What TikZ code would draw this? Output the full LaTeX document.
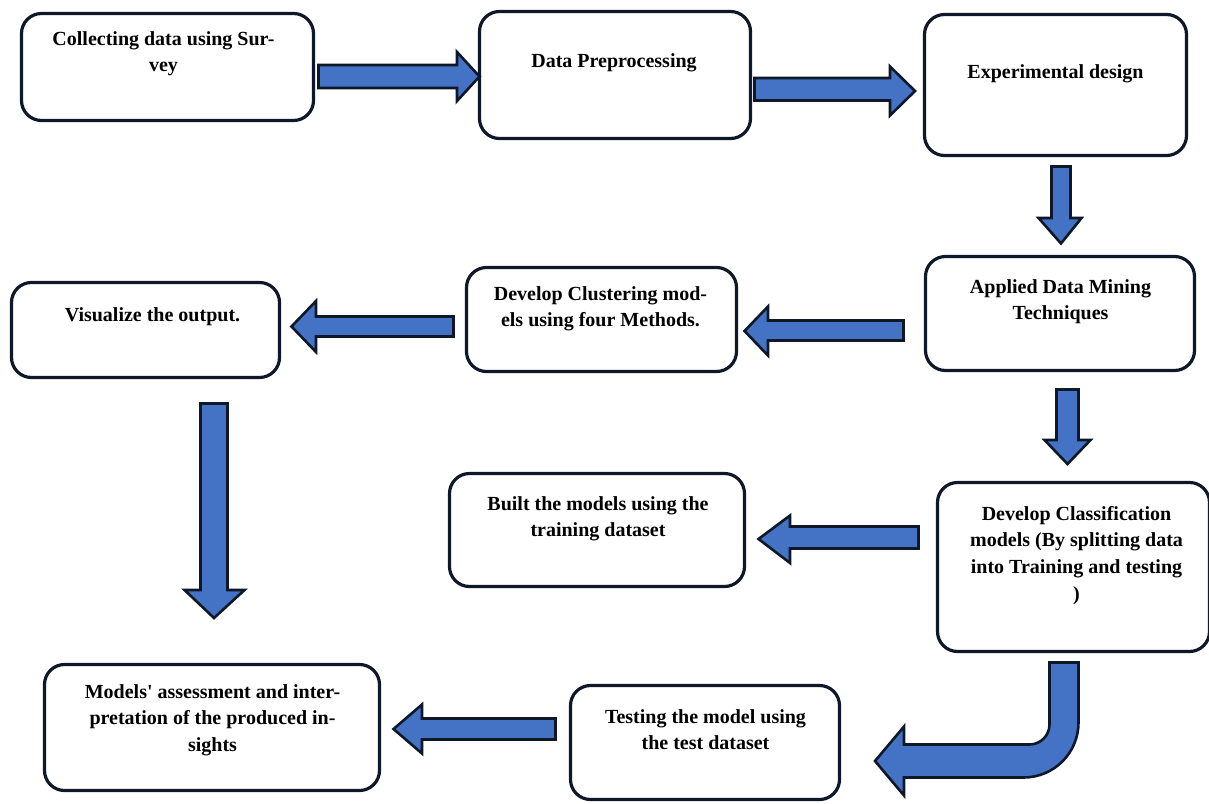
\documentclass[tikz,border=0pt]{standalone}
\usepackage{fontspec}
\setmainfont{Liberation Serif}[Ligatures=TeXOff]
\definecolor{edge}{HTML}{0E1828}
\definecolor{fillblue}{HTML}{4472C4}
\begin{document}
\begin{tikzpicture}[x=1pt,y=-1pt,
  box/.style={draw=edge, line width=3.2pt, rounded corners=20pt, fill=white, inner sep=0pt},
  lbl/.style={anchor=base, inner sep=0pt, font=\fontsize{20}{26.7}\selectfont\bfseries, text=black},
  barrow/.style={draw=edge, line width=2.6pt, fill=fillblue, line join=miter}]
\useasboundingbox (0,0) rectangle (1209,803);
% boxes
\node[box, minimum width=292pt, minimum height=107pt] (b1) at (167.5,67) {};
\node[box, minimum width=271pt, minimum height=127pt] (b2) at (615,75) {};
\node[box, minimum width=262pt, minimum height=141pt] (b3) at (1055.5,85) {};
\node[box, minimum width=269pt, minimum height=114pt] (b4) at (1060,313.5) {};
\node[box, minimum width=270pt, minimum height=104pt] (b5) at (601.5,319.5) {};
\node[box, minimum width=268pt, minimum height=95pt] (b6) at (145.5,330) {};
\node[box, minimum width=295pt, minimum height=113pt] (b7) at (597,530) {};
\node[box, minimum width=272pt, minimum height=169pt] (b8) at (1073.5,567) {};
\node[box, minimum width=335pt, minimum height=126pt] (b9) at (212,727.5) {};
\node[box, minimum width=269pt, minimum height=114pt] (b10) at (705,742.5) {};
% texts
\node[lbl] (t1) at (163.5,45) {\parbox[t]{320pt}{\centering Collecting data using Sur-\\vey}};
\node[lbl] (t2) at (614,67) {\parbox[t]{320pt}{\centering Data Preprocessing}};
\node[lbl] (t3) at (1055.5,78) {\parbox[t]{320pt}{\centering Experimental design}};
\node[lbl] (t4) at (1060.5,293) {\parbox[t]{320pt}{\centering Applied Data Mining\\Techniques}};
\node[lbl] (t5) at (600.5,300) {\parbox[t]{320pt}{\centering Develop Clustering mod-\\els using four Methods.}};
\node[lbl] (t6) at (152.5,321) {\parbox[t]{320pt}{\centering Visualize the output.}};
\node[lbl] (t7) at (598,510) {\parbox[t]{320pt}{\centering Built the models using the\\training dataset}};
\node[lbl] (t8) at (1076.5,520) {\parbox[t]{320pt}{\centering Develop Classification\\models (By splitting data\\into Training and testing\\)}};
\node[lbl] (t9) at (212.5,698) {\parbox[t]{360pt}{\centering Models' assessment and inter-\\pretation of the produced in-\\sights}};
\node[lbl] (t10) at (705.5,723) {\parbox[t]{320pt}{\centering Testing the model using\\the test dataset}};
% block arrows
\draw[barrow] (318.5,65) -- (457,65) -- (457,52) -- (479.5,76.5) -- (457,101) -- (457,88) -- (318.5,88) -- cycle;
\draw[barrow] (754.5,78) -- (890,78) -- (890,66.5) -- (915,91) -- (890,115.5) -- (890,100.5) -- (754.5,100.5) -- cycle;
\draw[barrow] (1051.5,166.5) -- (1070.5,166.5) -- (1070.5,218) -- (1081.5,218) -- (1061,243.5) -- (1038.5,218) -- (1051.5,218) -- cycle;
\draw[barrow] (903.5,320.5) -- (768,320.5) -- (768,306.5) -- (744.5,331) -- (768,355.5) -- (768,340.5) -- (903.5,340.5) -- cycle;
\draw[barrow] (453.5,316.5) -- (316,316.5) -- (316,301) -- (291.5,326.5) -- (316,352) -- (316,336.5) -- (453.5,336.5) -- cycle;
\draw[barrow] (200.5,403.5) -- (227.5,403.5) -- (227.5,590) -- (244.5,590) -- (214,618) -- (184.5,590) -- (200.5,590) -- cycle;
\draw[barrow] (1056.5,389.5) -- (1078.5,389.5) -- (1078.5,440) -- (1090.5,440) -- (1067.5,464) -- (1044.5,440) -- (1056.5,440) -- cycle;
\draw[barrow] (918.5,526.5) -- (790,526.5) -- (790,515.5) -- (758.5,539) -- (790,563) -- (790,548.5) -- (918.5,548.5) -- cycle;
\draw[barrow] (555.5,718.5) -- (422,718.5) -- (422,704.5) -- (393.5,729) -- (422,753.5) -- (422,739.5) -- (555.5,739.5) -- cycle;
\draw[barrow] (1049.5,662.5) -- (1078.5,662.5) -- (1078.5,722.5)
  .. controls (1078.5,752.9) and (1053.9,777.5) .. (1023.5,777.5)
  -- (904,777.5) -- (904,795.5) -- (875,761) -- (904,726.5) -- (904,744.5) -- (1029.5,744.5)
  .. controls (1040.5,744.5) and (1049.5,735.5) .. (1049.5,724.5) -- cycle;
\end{tikzpicture}
\end{document}
